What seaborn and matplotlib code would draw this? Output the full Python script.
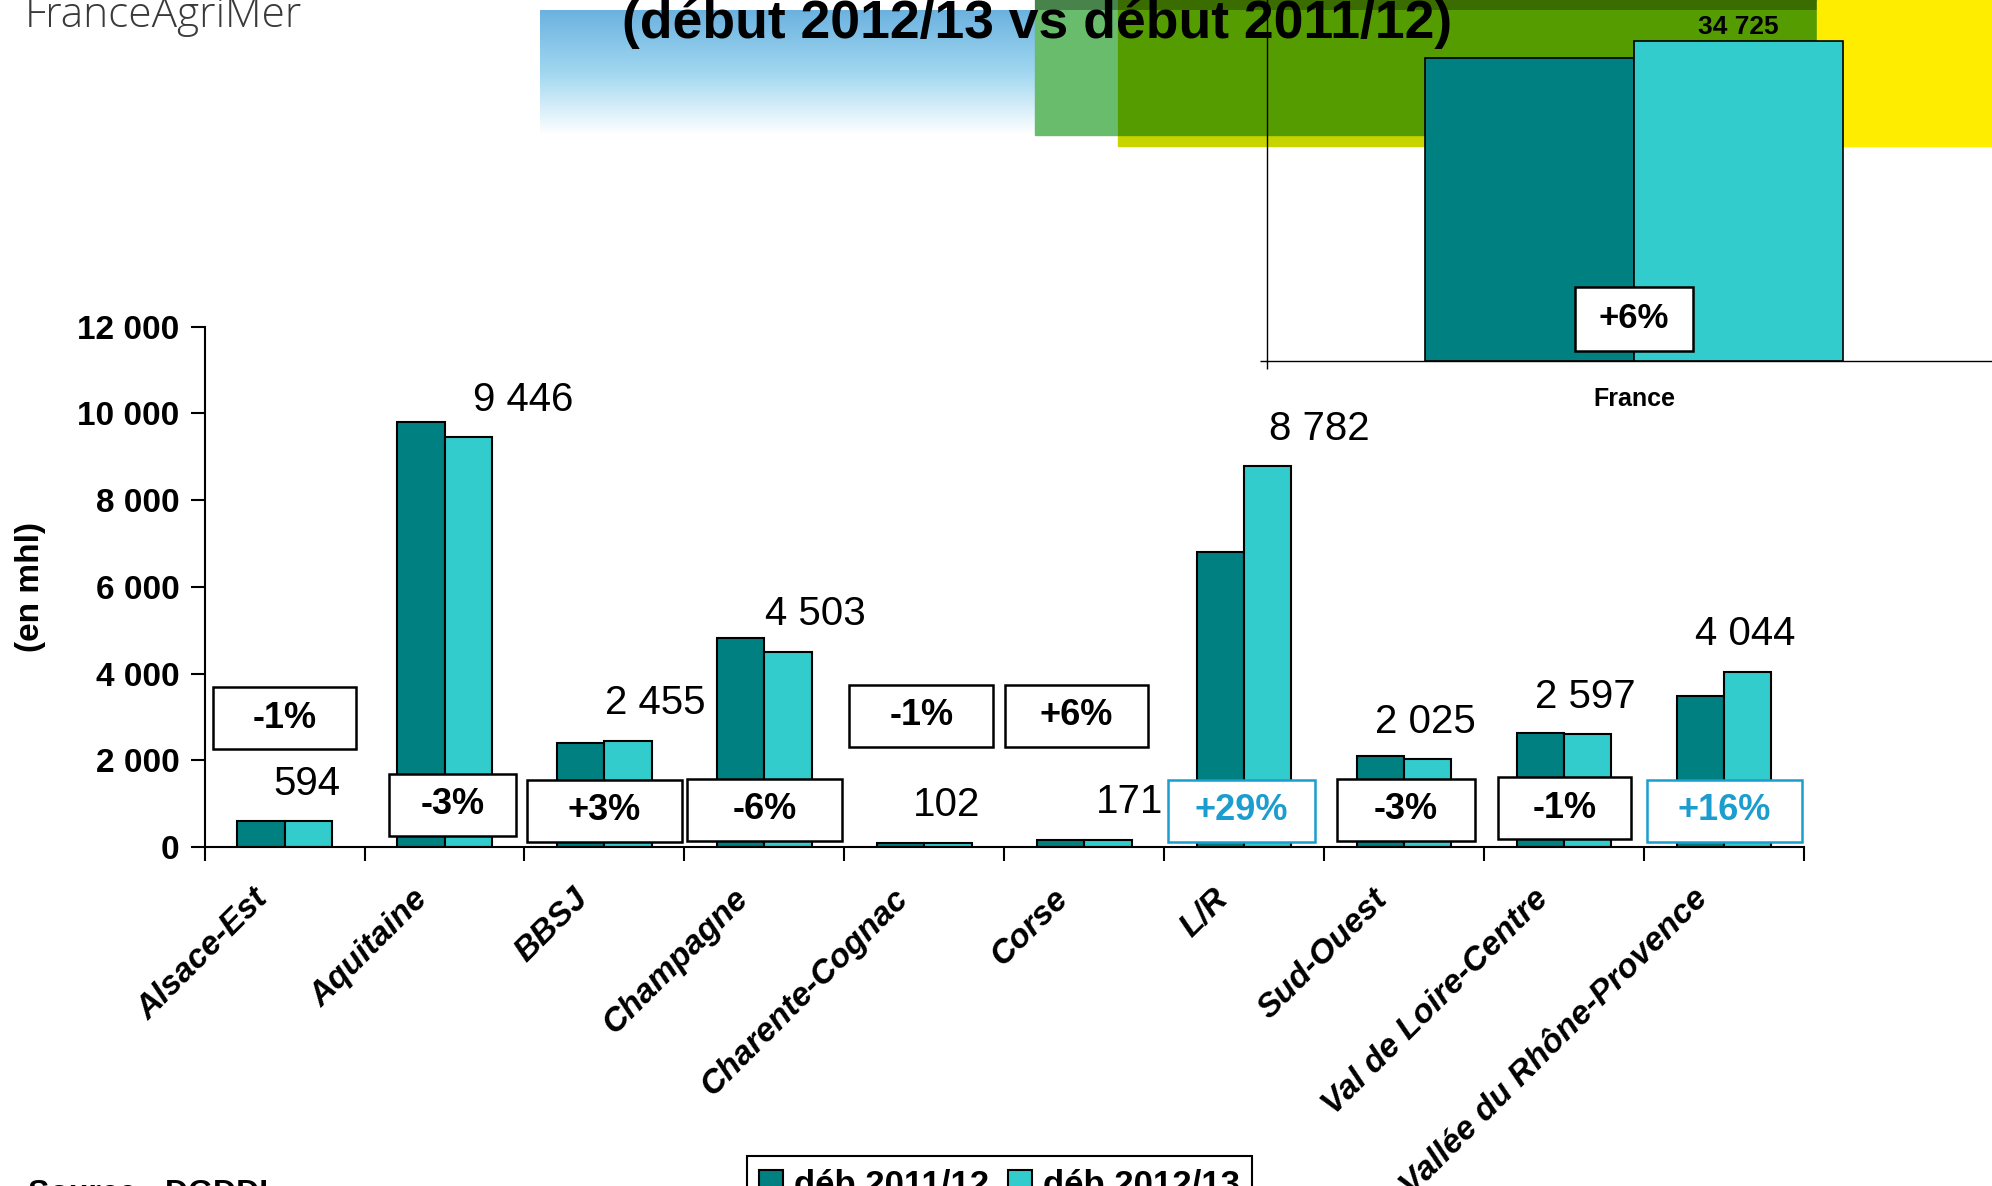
import numpy as np
import pandas as pd
import matplotlib
matplotlib.use("Agg")
import matplotlib.pyplot as plt
from matplotlib.patches import Rectangle
from matplotlib.ticker import FuncFormatter
import seaborn as sns

# donnees (en mhl)
regions = ["Alsace-Est", "Aquitaine", "BBSJ", "Champagne", "Charente-Cognac",
           "Corse", "L/R", "Sud-Ouest", "Val de Loire-Centre", "Vallée du Rhône-Provence"]
saisons = ["déb 2011/12", "déb 2012/13"]
deb_2011_12 = [600, 9810, 2400, 4817, 103, 162, 6808, 2088, 2623, 3486]
deb_2012_13 = [594, 9446, 2455, 4503, 102, 171, 8782, 2025, 2597, 4044]
variations = ["-1%", "-3%", "+3%", "-6%", "-1%", "+6%", "+29%", "-3%", "-1%", "+16%"]

france_2011_12 = 32800
france_2012_13 = 34725
france_variation = "+6%"

# mise en page des etiquettes (placement manuel comme sur la diapo)
decalage_valeurs = [0.14, 0.49, 0.32, 0.32, 0.14, 0.28, 0.47, 0.13, 0.13, 0.13]
centre_boites = [0, 1.05, 2, 3, 3.98, 4.95, 5.98, 7.01, 8.0, 9.0]
bas_boites = [2254, 263, 117, 146, 2312, 2312, 117, 146, 175, 117]
largeur_boites = [0.89, 0.79, 0.97, 0.97, 0.90, 0.89, 0.92, 0.86, 0.83, 0.97]
HAUT_BOITE = 1430

FONCE = "#008080"
CLAIR = "#33CCCC"
BLEU = "#1C9DD0"


def espace(v, pos=None):
    return f"{v:,.0f}".replace(",", " ")


sns.set_style("white")
plt.rcParams["font.family"] = ["Liberation Sans", "DejaVu Sans"]
plt.rcParams["text.color"] = "black"
plt.rcParams["axes.labelcolor"] = "black"
plt.rcParams["xtick.color"] = "black"
plt.rcParams["ytick.color"] = "black"

W, H = 1992, 1186
fig = plt.figure(figsize=(W / 100, H / 100), dpi=100)

# fond decoratif de la diapo (en pixels)
bg = fig.add_axes([0, 0, 1, 1], zorder=0)
bg.set_xlim(0, W)
bg.set_ylim(H, 0)
bg.axis("off")
grad = np.ones((100, 1, 3))
haut = np.array([108, 178, 224]) / 255
milieu = np.array([160, 215, 240]) / 255
for k in range(100):
    t = k / 99
    if t < 0.5:
        c = haut + (milieu - haut) * (t / 0.5)
    else:
        c = milieu + (np.ones(3) - milieu) * ((t - 0.5) / 0.5)
    grad[k, 0] = c
bg.imshow(grad, extent=(540, 1040, 135, 10), aspect="auto", zorder=1)
bg.add_patch(Rectangle((1035, 0), 90, 135, color="#68BC6C", zorder=2))
bg.add_patch(Rectangle((1118, 0), 700, 146, color="#C8D400", zorder=3))
bg.add_patch(Rectangle((1118, 0), 700, 135, color="#559C00", zorder=4))
bg.add_patch(Rectangle((1035, 0), 783, 10, color="black", alpha=0.3, zorder=5, lw=0))
bg.add_patch(Rectangle((1817, 0), 180, 146, color="#FFED00", zorder=5))

df = pd.DataFrame({
    "region": regions * 2,
    "saison": [saisons[0]] * len(regions) + [saisons[1]] * len(regions),
    "valeur": deb_2011_12 + deb_2012_13,
})
palette = {saisons[0]: FONCE, saisons[1]: CLAIR}

# graphique principal
ax = fig.add_axes([0.1027, 0.2858, 0.803, 0.4389], zorder=2)
ax.patch.set_alpha(0)
sns.barplot(data=df, x="region", y="valeur", hue="saison", palette=palette, saturation=1,
            width=0.59, edgecolor="black", linewidth=1.5, ax=ax, legend=True)
ax.set_xlim(-0.5, len(regions) - 0.5)
ax.set_ylim(0, 12000)
ax.set_yticks(np.arange(0, 12001, 2000))
ax.yaxis.set_major_formatter(FuncFormatter(espace))
for lab in ax.get_yticklabels():
    lab.set_fontweight("bold")
    lab.set_fontsize(24)
ax.tick_params(axis="y", direction="out", length=10, width=1.5, left=True, pad=8)
# etiquettes un peu a gauche du centre de categorie, comme sur l'original
ax.set_xticks(np.arange(len(regions)) - 0.2)
ax.set_xticklabels(regions, rotation=45, ha="right", rotation_mode="anchor",
                   fontsize=24, fontweight="bold", fontstyle="italic")
ax.set_xticks(np.arange(-0.5, len(regions), 1), minor=True)
ax.tick_params(axis="x", which="major", length=0, pad=26)
ax.tick_params(axis="x", which="minor", direction="out", length=10, width=1.5, bottom=True)
ax.set_xlabel("")
ax.set_ylabel("")
for s in ["top", "right"]:
    ax.spines[s].set_visible(False)
for s in ["left", "bottom"]:
    ax.spines[s].set_linewidth(1.5)
    ax.spines[s].set_color("black")

# valeurs 2012/13
for i, v in enumerate(deb_2012_13):
    ax.annotate(espace(v), xy=(i + decalage_valeurs[i], v), xytext=(0, 27),
                textcoords="offset points", ha="center", va="center", fontsize=29)

# boites de variation
for i, txt in enumerate(variations):
    couleur = BLEU if txt in ("+29%", "+16%") else "black"
    cx = centre_boites[i]
    w = largeur_boites[i]
    ax.add_patch(Rectangle((cx - w / 2, bas_boites[i]), w, HAUT_BOITE, facecolor="white",
                           edgecolor=couleur, linewidth=1.8, zorder=4))
    ax.text(cx, bas_boites[i] + HAUT_BOITE / 2, txt, ha="center", va="center",
            fontsize=26, fontweight="bold", color=couleur, zorder=5)

handles, labels = ax.get_legend_handles_labels()
ax.get_legend().remove()

# encart France
df_fr = pd.DataFrame({"region": ["France", "France"], "saison": saisons,
                      "valeur": [france_2011_12, france_2012_13]})
axf = fig.add_axes([1267 / W, 1 - 361 / H, 734 / W, 361 / H], zorder=3)
axf.patch.set_alpha(0)
sns.barplot(data=df_fr, x="region", y="valeur", hue="saison", palette=palette, saturation=1,
            width=0.57, edgecolor="black", linewidth=1.2, ax=axf, legend=False)
axf.set_xlim(-0.5, 0.5)
axf.set_ylim(0, 39125)
axf.set_yticks([0])
axf.set_yticklabels([])
axf.tick_params(axis="y", length=5, width=1, left=True)
axf.set_xticks([0])
axf.set_xticklabels(["France"], fontsize=18, fontweight="bold")
axf.set_xticks([-0.5], minor=True)
axf.tick_params(axis="x", which="major", length=0, pad=19)
axf.tick_params(axis="x", which="minor", length=6, width=1, bottom=True, direction="out")
axf.set_xlabel("")
axf.set_ylabel("")
for s in ["top", "right"]:
    axf.spines[s].set_visible(False)
for s in ["left", "bottom"]:
    axf.spines[s].set_linewidth(1)
    axf.spines[s].set_color("black")
axf.annotate(espace(france_2012_13), xy=(0.1425, france_2012_13), xytext=(0, 10),
             textcoords="offset points", ha="center", va="center",
             fontsize=19, fontweight="bold")
axf.add_patch(Rectangle((-0.081, 1084), 0.162, 6936, facecolor="white",
                        edgecolor="black", linewidth=1.8, zorder=4))
axf.text(0, 1084 + 6936 / 2, france_variation, ha="center", va="center",
         fontsize=25, fontweight="bold", zorder=5)

# textes de la diapo
fig.text(30 / W, 1 - 587 / H, "(en mhl)", rotation=90, ha="center", va="center",
         fontsize=24, fontweight="bold")
fig.text(1037 / W, 1 - 38 / H, "(début 2012/13 vs début 2011/12)", ha="center",
         va="baseline", fontsize=38.5, fontweight="bold", zorder=10)
fig.text(25 / W, 1 - 27 / H, "FranceAgriMer", ha="left", va="baseline", fontsize=30.5,
         family=["Open Sans", "DejaVu Sans"], fontweight="light", color="#3a3a3a")
fig.text(28 / W, 1 - 1202 / H, "Source : DGDDI", ha="left", va="baseline",
         fontsize=23, fontweight="bold")

fig.legend(handles, labels, loc="upper left", bbox_to_anchor=(747 / W, 1 - 1156 / H),
           ncol=2, frameon=True, fancybox=False, edgecolor="black", framealpha=1,
           prop={"size": 25, "weight": "bold"}, handlelength=0.7, handleheight=0.7,
           handletextpad=0.3, columnspacing=0.55, borderpad=0.35, borderaxespad=0)
leg = fig.legends[0]
leg.get_frame().set_linewidth(1.5)

fig.savefig("out.png", dpi=100)
